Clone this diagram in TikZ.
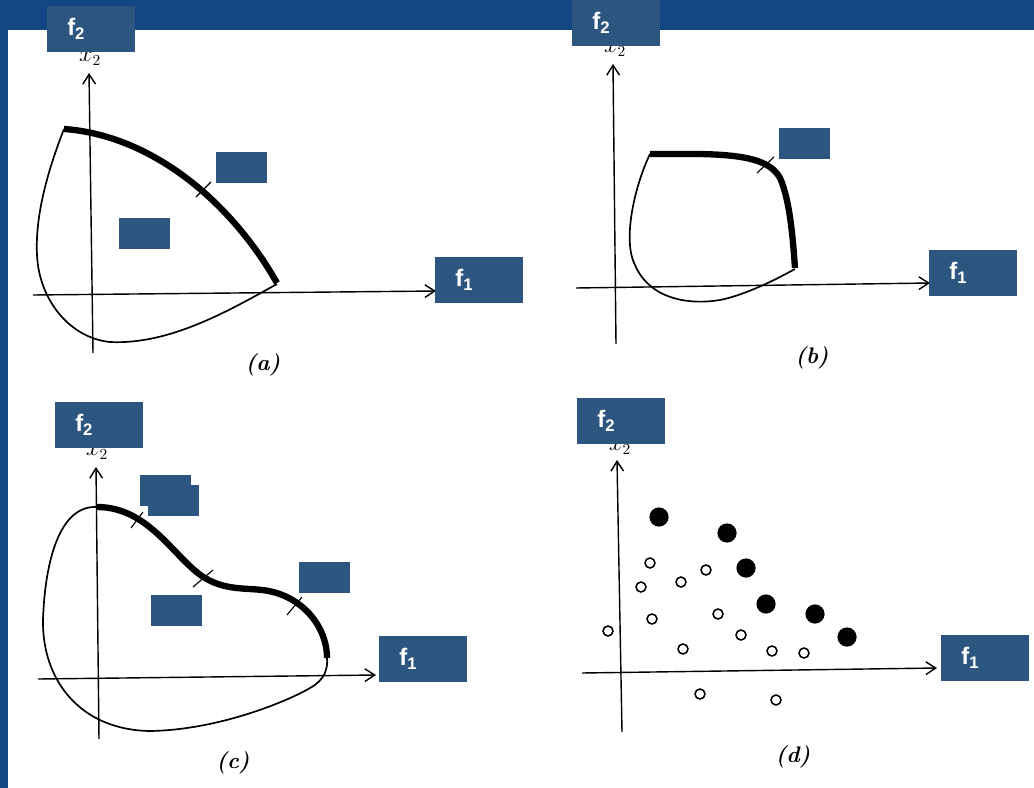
\documentclass[tikz,border=0pt]{standalone}
\usepackage{fontspec}
\newfontfamily\arialfont{Liberation Sans}
\usetikzlibrary{arrows.meta}
\definecolor{slideblue}{RGB}{18,70,132}
\definecolor{boxblue}{RGB}{44,85,128}
\tikzset{axis/.style={-{Straight Barb[length=7pt,width=9pt]}, line width=1pt},
  front/.style={line width=4.5pt, line join=round},
  rim/.style={line width=1.2pt},
  tick/.style={line width=0.8pt},
  lbl/.style={fill=boxblue, text=white, font=\arialfont\bfseries\fontsize{17}{19}\selectfont,
    anchor=north west, minimum height=1.14cm, text width=1.2cm, inner xsep=0.5cm, inner ysep=0pt, align=left},
  blank/.style={fill=boxblue, anchor=north west, minimum width=1.275cm, minimum height=0.775cm, inner sep=0pt},
  subcap/.style={font=\itshape\bfseries\fontsize{16}{18}\selectfont},
  varlbl/.style={font=\fontsize{16}{18}\selectfont, inner sep=0pt},
  solid dot/.style={circle, fill=black, minimum size=0.48cm, inner sep=0pt},
  open dot/.style={circle, draw=black, line width=1.1pt, fill=white, minimum size=0.25cm, inner sep=0pt}}

\begin{document}
\begin{tikzpicture}[x=0.025cm, y=-0.025cm]
  \useasboundingbox (0,0) rectangle (1034,788);
  % slide background
  \fill[slideblue] (0,0) rectangle (1034,788);
  \fill[white] (8,30) rectangle (1034,788);

  % (a)
  \coordinate (a-ybot) at (93,353);  \coordinate (a-ytop) at (89,73);
  \coordinate (a-xl) at (33,295);    \coordinate (a-xr) at (436,291);
  \draw[axis] (a-ybot) -- (a-ytop);
  \draw[axis] (a-xl) -- (a-xr);
  \node[varlbl] (a-x2) at (90,58) {$x_2$};
  \draw[rim] (64,129) .. controls (48,170) and (35,215) .. (37,255)
    .. controls (39,300) and (70,338) .. (110,342)
    .. controls (170,345) and (230,310) .. (277,284);
  \draw[front] (64,129) .. controls (150,135) and (230,200) .. (277,283);
  \draw[tick] (196,197) -- (211,182);
  \node[subcap] (a-cap) at (263,365) {(a)};

  % (b)
  \coordinate (b-ybot) at (616,344); \coordinate (b-ytop) at (613,64);
  \coordinate (b-xl) at (576,288);   \coordinate (b-xr) at (930,283);
  \draw[axis] (b-ybot) -- (b-ytop);
  \draw[axis] (b-xl) -- (b-xr);
  \node[varlbl] (b-x2) at (615,49) {$x_2$};
  \draw[rim] (650,154) .. controls (635,185) and (622,240) .. (635,265)
    .. controls (650,300) and (690,305) .. (720,300)
    .. controls (745,295) and (775,280) .. (795,269);
  \draw[front] (650,154) -- (700,154) .. controls (745,155) and (770,160) .. (780,178)
    .. controls (790,200) and (793,240) .. (795,268);
  \draw[tick] (757,173) -- (774,157);
  \node[subcap] (b-cap) at (812,358) {(b)};

  % (c)
  \coordinate (c-ybot) at (99,739);  \coordinate (c-ytop) at (96,467);
  \coordinate (c-xl) at (38,679);    \coordinate (c-xr) at (376,675);
  \draw[axis] (c-ybot) -- (c-ytop);
  \draw[axis] (c-xl) -- (c-xr);
  \node[varlbl] (c-x2) at (97,452) {$x_2$};
  \draw[rim] (97,507) .. controls (60,505) and (45,560) .. (43,620)
    .. controls (42,680) and (80,730) .. (150,731)
    .. controls (220,730) and (290,700) .. (310,688)
    .. controls (325,680) and (328,668) .. (327,658);
  \draw[front] (97,507) .. controls (150,507) and (175,560) .. (205,578)
    .. controls (225,590) and (245,588) .. (262,590)
    .. controls (300,594) and (327,625) .. (327,658);
  \draw[tick] (131,528) -- (143,512);
  \draw[tick] (193,587) -- (213,570);
  \draw[tick] (287,615) -- (302,597);
  \node[subcap] (c-cap) at (233,763) {(c)};

  % (d)
  \coordinate (d-ybot) at (622,732); \coordinate (d-ytop) at (617,460);
  \coordinate (d-xl) at (582,673);   \coordinate (d-xr) at (937,668);
  \draw[axis] (d-ybot) -- (d-ytop);
  \draw[axis] (d-xl) -- (d-xr);
  \node[varlbl] (d-x2) at (620,447) {$x_2$};
  \foreach \x/\y [count=\k] in {659/517, 727/533, 746/568, 766/604, 815/614, 847/637}
    \node[solid dot] (nd\k) at (\x,\y) {};
  \foreach \x/\y [count=\k] in {650/563, 641/587, 681/582, 706/570, 652/619, 608/631, 718/614,
      741/635, 683/649, 772/651, 804/653, 700/694, 776/700}
    \node[open dot] (dom\k) at (\x,\y) {};
  \node[subcap] (d-cap) at (793,757) {(d)};

  % label boxes
  \node[lbl] (a-f2) at (47,6) {f\textsubscript{2}};
  \node[lbl] (a-f1) at (435,257) {f\textsubscript{1}};
  \node[blank] (a-m1) at (216,152) {};
  \node[blank] (a-m2) at (119,218) {};
  \node[lbl] (b-f2) at (572,0) {f\textsubscript{2}};
  \node[lbl] (b-f1) at (929,250) {f\textsubscript{1}};
  \node[blank] (b-m1) at (779,128) {};
  \node[lbl] (c-f2) at (55,402) {f\textsubscript{2}};
  \node[lbl] (c-f1) at (379,636) {f\textsubscript{1}};
  \node[blank] (c-m1) at (140,475) {};
  \node[blank] (c-m2) at (148,485) {};
  \node[blank] (c-m3) at (151,595) {};
  \node[blank] (c-m4) at (299,562) {};
  \node[lbl] (d-f2) at (577,398) {f\textsubscript{2}};
  \node[lbl] (d-f1) at (941,635) {f\textsubscript{1}};
\end{tikzpicture}
\end{document}
